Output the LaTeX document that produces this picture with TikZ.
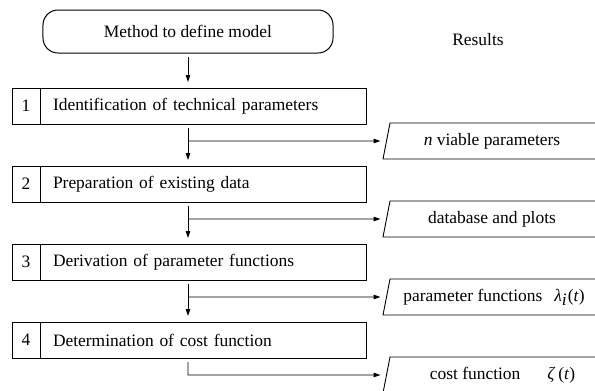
\documentclass[tikz,border=0pt]{standalone}
\usepackage{fontspec}
\setmainfont{Liberation Serif}
\usetikzlibrary{arrows.meta,calc}
\begin{document}
\begin{tikzpicture}[x=1bp,y=-1bp,
  every node/.style={font=\fontsize{17.5}{20}\selectfont, text=black},
  line/.style={line width=0.9bp, draw=black},
  arr/.style={line width=0.9bp, draw=black, -{Triangle[length=7bp,width=4.5bp]}, shorten >=6bp},
  startbox/.style={draw, line width=1bp, rounded corners=15bp, minimum width=290bp, minimum height=43bp, inner sep=0pt, outer sep=0pt},
  numbox/.style={draw, line width=1bp, minimum width=28bp, minimum height=36bp, inner sep=0pt, outer sep=0pt},
  stepbox/.style={draw, line width=1bp, minimum width=326bp, minimum height=36bp, inner xsep=13bp, inner ysep=0pt, outer sep=0pt, text width=300bp, align=left, anchor=west},
  restext/.style={inner sep=0pt},
]
\useasboundingbox (0,0) rectangle (595,390);
\clip (0,0) rectangle (595,390);

\node[startbox] (top) at (188,31.5) {Method to define model};
\node[restext] (res) at (478,40) {Results};

\node[numbox] (n1) at (26,106) {1};
\node[stepbox] (b1) at (n1.east) {Identification of technical parameters};
\node[numbox] (n2) at (26,184) {2};
\node[stepbox] (b2) at (n2.east) {Preparation of existing data};
\node[numbox] (n3) at (26,262) {3};
\node[stepbox] (b3) at (n3.east) {Derivation of parameter functions};
\node[numbox] (n4) at (26,340) {4};
\node[stepbox] (b4) at (n4.east) {Determination of cost function};

% result parallelograms
\draw[line] (600,123) -- (390,123) -- (383,159) -- (600,159);
\draw[line] (600,201) -- (390,201) -- (383,237) -- (600,237);
\draw[line] (600,279) -- (390,279) -- (383,315) -- (600,315);
\draw[line] (600,357) -- (390,357) -- (383,393) -- (600,393);
\node[restext] (r1) at (492,141) {\textit{n} viable parameters};
\node[restext] (r2) at (492,219) {database and plots};
\node[restext] (r3) at (494,297) {parameter functions\hspace{12bp}\textit{λ}\raisebox{-0.5ex}{\textit{i}}\kern1bp(\textit{t})};
\node[restext] (r4) at (502.5,375) {cost function\hspace{27bp}\textit{ζ}\,(\textit{t})};
\coordinate (r1in) at (386.5,141);
\coordinate (r2in) at (386.5,219);
\coordinate (r3in) at (386.5,297);
\coordinate (r4in) at (386.5,375);

% junctions
\coordinate (j1) at ($(top.south |- b1.south)+(0,17)$);
\coordinate (j2) at ($(top.south |- b2.south)+(0,17)$);
\coordinate (j3) at ($(top.south |- b3.south)+(0,17)$);
\coordinate (j4) at ($(top.south |- b4.south)+(0,17)$);

% connectors
\draw[arr, shorten <=4bp] (top.south) -- (top.south |- b1.north);
\draw[arr, shorten <=4bp] (top.south |- b1.south) -- (top.south |- b2.north);
\draw[arr, shorten <=4bp] (top.south |- b2.south) -- (top.south |- b3.north);
\draw[arr, shorten <=4bp] (top.south |- b3.south) -- (top.south |- b4.north);
\draw[arr] (j1) -- (r1in);
\draw[arr] (j2) -- (r2in);
\draw[arr] (j3) -- (r3in);
\draw[arr, shorten <=4bp] (top.south |- b4.south) -- (j4) -- (r4in);
\end{tikzpicture}
\end{document}
